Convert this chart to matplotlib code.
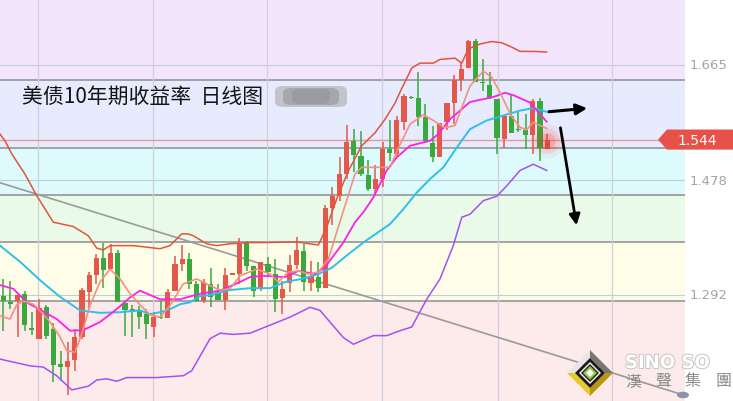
import matplotlib
matplotlib.use("Agg")
from matplotlib import pyplot as plt, patches, transforms
import matplotlib.patheffects as pe
import numpy as np

plt.rcParams['font.family'] = ['Noto Sans CJK SC', 'DejaVu Sans']

# daily candles (yield levels)
opens = [1.291, 1.281, 1.283, 1.294, 1.238, 1.221, 1.273, 1.237, 1.180, 1.175,
         1.187, 1.224, 1.297, 1.325, 1.352, 1.334, 1.360, 1.279, 1.269, 1.268,
         1.261, 1.240, 1.257, 1.255, 1.299, 1.342, 1.350, 1.310, 1.283, 1.310,
         1.296, 1.284, 1.325, 1.326, 1.376, 1.339, 1.302, 1.342, 1.326, 1.287,
         1.311, 1.341, 1.363, 1.311, 1.321, 1.304, 1.433, 1.453, 1.488, 1.541,
         1.518, 1.487, 1.464, 1.480, 1.529, 1.521, 1.573, 1.613, 1.611, 1.580,
         1.539, 1.515, 1.573, 1.604, 1.641, 1.660, 1.704, 1.638, 1.632, 1.610,
         1.545, 1.582, 1.561, 1.559, 1.551, 1.607, 1.528]
highs = [1.318, 1.314, 1.292, 1.299, 1.265, 1.285, 1.276, 1.246, 1.201, 1.215,
         1.237, 1.303, 1.330, 1.358, 1.377, 1.375, 1.365, 1.281, 1.275, 1.274,
         1.269, 1.264, 1.283, 1.302, 1.355, 1.373, 1.360, 1.315, 1.318, 1.335,
         1.310, 1.335, 1.328, 1.385, 1.380, 1.339, 1.345, 1.353, 1.350, 1.315,
         1.356, 1.386, 1.374, 1.347, 1.345, 1.438, 1.467, 1.516, 1.568, 1.561,
         1.558, 1.511, 1.502, 1.540, 1.575, 1.583, 1.618, 1.615, 1.654, 1.602,
         1.566, 1.571, 1.604, 1.648, 1.669, 1.706, 1.707, 1.675, 1.653, 1.610,
         1.582, 1.618, 1.588, 1.585, 1.610, 1.612, 1.553]
lows = [1.234, 1.269, 1.224, 1.234, 1.227, 1.221, 1.221, 1.151, 1.153, 1.130,
        1.169, 1.221, 1.269, 1.310, 1.304, 1.334, 1.280, 1.225, 1.224, 1.237,
        1.221, 1.224, 1.253, 1.255, 1.299, 1.331, 1.302, 1.280, 1.279, 1.272,
        1.284, 1.268, 1.324, 1.310, 1.331, 1.288, 1.298, 1.321, 1.264, 1.261,
        1.296, 1.334, 1.299, 1.299, 1.297, 1.304, 1.405, 1.445, 1.480, 1.491,
        1.485, 1.461, 1.453, 1.467, 1.510, 1.515, 1.559, 1.610, 1.566, 1.540,
        1.508, 1.515, 1.559, 1.569, 1.623, 1.660, 1.637, 1.623, 1.610, 1.521,
        1.531, 1.555, 1.556, 1.529, 1.521, 1.510, 1.528]
closes = [1.283, 1.278, 1.292, 1.244, 1.235, 1.271, 1.225, 1.178, 1.175, 1.185,
          1.224, 1.300, 1.324, 1.352, 1.333, 1.360, 1.280, 1.268, 1.265, 1.256,
          1.245, 1.256, 1.255, 1.297, 1.342, 1.350, 1.310, 1.283, 1.313, 1.289,
          1.284, 1.324, 1.327, 1.375, 1.339, 1.299, 1.345, 1.330, 1.285, 1.302,
          1.341, 1.365, 1.313, 1.323, 1.304, 1.433, 1.453, 1.488, 1.540, 1.519,
          1.488, 1.464, 1.480, 1.529, 1.522, 1.575, 1.615, 1.612, 1.580, 1.541,
          1.515, 1.571, 1.603, 1.640, 1.658, 1.704, 1.637, 1.635, 1.611, 1.546,
          1.582, 1.555, 1.559, 1.552, 1.607, 1.530, 1.544]

# indicator lines (candle index, level) read at sample points
boll_up_x = [-0.46, 0.24, 1.17, 3.03, 4.67, 6.99, 9.78, 11.88, 13.05, 13.98, 14.91, 18.17,
             21.90, 23.30, 24.93, 25.86, 26.55, 28.43, 29.82, 31.68, 34.48, 36.58, 41.01,
             44.03, 45.20, 46.60, 48.22, 50.09, 51.95, 53.35, 54.74, 55.44, 57.08, 58.24,
             60.10, 61.03, 63.13, 64.07, 64.99, 66.63, 68.26, 69.66, 71.05, 72.21, 74.07, 75.94]
boll_up_y = [1.553, 1.542, 1.521, 1.488, 1.453, 1.410, 1.403, 1.388, 1.368, 1.365, 1.372, 1.372,
             1.367, 1.372, 1.391, 1.391, 1.388, 1.375, 1.372, 1.375, 1.377, 1.377, 1.378,
             1.373, 1.402, 1.448, 1.493, 1.534, 1.555, 1.577, 1.603, 1.621, 1.660, 1.668,
             1.668, 1.674, 1.676, 1.668, 1.691, 1.699, 1.703, 1.701, 1.694, 1.687, 1.687, 1.686]
boll_dn_x = [-0.46, 3.73, 5.59, 7.46, 9.56, 11.88, 13.05, 14.45, 15.85, 17.25, 21.44, 25.16,
             26.33, 28.89, 30.29, 32.15, 34.48, 37.27, 40.07, 42.86, 44.26, 45.66, 47.52,
             48.92, 51.71, 53.58, 55.44, 57.08, 59.17, 61.03, 62.89, 64.07, 65.23, 67.09,
             68.96, 70.36, 72.22, 74.07, 75.94]
boll_dn_y = [1.188, 1.177, 1.175, 1.161, 1.138, 1.144, 1.154, 1.156, 1.152, 1.158, 1.158, 1.161,
             1.169, 1.221, 1.230, 1.228, 1.230, 1.243, 1.256, 1.272, 1.267, 1.248, 1.223,
             1.212, 1.226, 1.226, 1.234, 1.240, 1.285, 1.318, 1.372, 1.418, 1.423, 1.445,
             1.452, 1.469, 1.494, 1.504, 1.494]
ma_long_x = [-0.46, 2.33, 5.13, 7.92, 10.72, 13.51, 16.31, 19.10, 20.50, 21.90, 23.30, 24.70,
             26.09, 27.49, 28.89, 31.68, 34.48, 37.27, 39.37, 41.71, 44.03, 45.90, 48.00,
             50.31, 54.05, 55.90, 57.78, 59.64, 61.50, 63.37, 65.23, 67.56, 69.88, 72.21,
             74.07, 75.94]
ma_long_y = [1.372, 1.346, 1.316, 1.289, 1.267, 1.263, 1.264, 1.267, 1.261, 1.264, 1.269, 1.277,
             1.280, 1.290, 1.292, 1.300, 1.303, 1.303, 1.313, 1.318, 1.326, 1.336, 1.356,
             1.377, 1.407, 1.431, 1.458, 1.480, 1.499, 1.531, 1.561, 1.575, 1.583, 1.591,
             1.595, 1.589]
ma_mid_x = [-0.46, 1.40, 3.27, 5.13, 7.46, 9.32, 11.18, 13.51, 15.85, 17.71, 19.10, 21.90,
            24.70, 27.49, 30.29, 33.08, 34.48, 36.34, 39.37, 41.23, 43.56, 44.96, 47.52,
            49.15, 50.31, 51.71, 53.58, 54.98, 56.84, 59.64, 60.80, 62.43, 65.23, 68.48,
            70.12, 71.28, 73.61, 75.94]
ma_mid_y = [1.308, 1.302, 1.280, 1.268, 1.253, 1.234, 1.235, 1.248, 1.269, 1.288, 1.299, 1.285,
            1.285, 1.294, 1.299, 1.313, 1.321, 1.323, 1.321, 1.331, 1.326, 1.337, 1.377,
            1.410, 1.426, 1.450, 1.494, 1.515, 1.534, 1.542, 1.553, 1.577, 1.605, 1.613,
            1.620, 1.616, 1.604, 1.573]
ma_short_x = [-0.46, 0.94, 1.87, 2.80, 4.19, 5.59, 6.53, 7.92, 8.86, 10.02, 10.96, 12.12,
              13.51, 14.91, 16.31, 17.71, 19.10, 20.50, 21.90, 23.30, 25.16, 27.03, 28.89,
              30.29, 31.68, 33.08, 35.42, 37.27, 38.43, 39.83, 41.23, 42.63, 44.03, 45.42,
              46.60, 47.76, 49.15, 50.09, 51.95, 54.05, 55.16, 56.84, 58.70, 60.10, 61.73,
              63.13, 65.23, 67.09, 68.26, 69.44, 70.96, 72.21, 73.14, 74.07, 75.00, 75.94]
ma_short_y = [1.258, 1.253, 1.276, 1.282, 1.277, 1.261, 1.248, 1.224, 1.202, 1.199, 1.229, 1.275,
              1.313, 1.334, 1.318, 1.294, 1.276, 1.260, 1.256, 1.275, 1.310, 1.318, 1.307,
              1.300, 1.302, 1.323, 1.334, 1.326, 1.313, 1.329, 1.331, 1.326, 1.329, 1.350,
              1.394, 1.437, 1.488, 1.499, 1.499, 1.499, 1.529, 1.569, 1.584, 1.575, 1.563,
              1.567, 1.631, 1.655, 1.645, 1.620, 1.583, 1.564, 1.560, 1.572, 1.567, 1.562]

# hand-drawn trend line end points
trend_x = [-0.46, 94.99]
trend_y = [1.474, 1.130]

# background zones and their edges
zone_edges = [1.772, 1.640, 1.530, 1.454, 1.378, 1.282, 1.120]
zone_colors = ['#f3e6fc', '#e6ebfd', '#ddfafc', '#e9fbe8', '#fefde8', '#fdeaeb']
tick_levels = [1.665, 1.478, 1.292]
tick_labels = ['1.665', '1.478', '1.292']
vgrid_x = [4.85, 20.92, 36.86, 52.97, 69.07, 85.07]
last_price = 1.544

W, H = 733, 402
fig = plt.figure(figsize=(W / 100, H / 100), dpi=100)
fig.patch.set_facecolor('white')
ax = fig.add_axes([0, 0, 685 / W, 1])
ax.set_xlim(-0.46, 95.27)
ax.set_ylim(zone_edges[-1], zone_edges[0])
ax.axis('off')

for top, bot, col in zip(zone_edges[:-1], zone_edges[1:], zone_colors):
    ax.axhspan(bot, top, color=col, lw=0, zorder=0)
for lv in zone_edges[1:-1]:
    ax.axhline(lv, color='#9c9c9c', lw=1.3, zorder=1)
for lv in tick_levels:
    ax.axhline(lv, color='#c6cbd8', lw=0.8, zorder=1)
for vx in vgrid_x:
    ax.axvline(vx, color='#cfd0dc', lw=0.9, zorder=1)
ax.axhline(last_price, color='#e89a9a', lw=1.0, zorder=1)

ax.plot(trend_x, trend_y, color='#9a9a9a', lw=1.2, zorder=2)

# candles
o = np.array(opens)
c = np.array(closes)
hi = np.array(highs)
lo = np.array(lows)
idx = np.arange(len(o))
up = c >= o
cols = np.where(up, '#e4574b', '#38aa3c')
ax.vlines(idx, lo, hi, colors=cols, lw=1.1, zorder=3)
body = np.maximum(np.abs(c - o), 0.0017)
ax.bar(idx, body, bottom=np.minimum(o, c), width=0.72, color=cols, lw=0, zorder=4)

# glow on the latest candle
for s, a in [(600, 0.06), (320, 0.10), (140, 0.18)]:
    ax.scatter([idx[-1]], [c[-1] - 0.003], s=s, color='#ff2020', alpha=a, lw=0, zorder=5)

# indicator lines
ax.plot(boll_up_x, boll_up_y, color='#e2553a', lw=1.1, zorder=6)
ax.plot(boll_dn_x, boll_dn_y, color='#a352f2', lw=1.1, zorder=6)
ax.plot(ma_long_x, ma_long_y, color='#2ec0ea', lw=1.4, zorder=6)
ax.plot(ma_mid_x, ma_mid_y, color='#ff1fe8', lw=1.3, zorder=6)
ax.plot(ma_short_x, ma_short_y, color='#f5907e', lw=1.2, zorder=6)

# right price labels
blend = transforms.blended_transform_factory(fig.transFigure, ax.transData)
for lv, lab in zip(tick_levels, tick_labels):
    fig.text(690 / W, lv, lab, transform=blend, fontsize=9.5, color='#a3a3ab',
             va='center', ha='left', family='DejaVu Sans')

# current price tag
dh = 0.0163
tag = patches.Polygon([(658 / W, last_price), (667 / W, last_price + dh), (1.0, last_price + dh),
                       (1.0, last_price - dh), (667 / W, last_price - dh)],
                      closed=True, transform=blend, color='#e8514a', lw=0)
fig.add_artist(tag)
fig.text(697 / W, last_price, '1.544', transform=blend, fontsize=10, color='white',
         va='center', ha='center', family='DejaVu Sans')


def fp(x, y):
    return (x / W, 1 - y / H)


# title and blurred tag
fig.text(22 / W, 1 - 97 / H, '美债10年期收益率  日线图', fontsize=15, color='#141414',
         va='center', ha='left')
for (x0, y0, w, h, col) in [(275, 87, 72, 21, '#c3c3cb'), (283, 89, 56, 17, '#a6a6ae'),
                            (292, 90, 38, 15, '#9a9aa2')]:
    fig.add_artist(patches.FancyBboxPatch(fp(x0, y0 + h), w / W, h / H,
                                          boxstyle='round,pad=0,rounding_size=0.012',
                                          transform=fig.transFigure, color=col, lw=0))

# arrows
ax.annotate('', xy=(590, H - 109), xytext=(546, H - 113), xycoords='figure pixels',
            textcoords='figure pixels',
            arrowprops=dict(arrowstyle='-|>', color='black', lw=2.2, mutation_scale=16))
ax.annotate('', xy=(577, H - 229), xytext=(560, H - 126), xycoords='figure pixels',
            textcoords='figure pixels',
            arrowprops=dict(arrowstyle='-|>', color='black', lw=2.0, mutation_scale=16))

# end dot of the trend line
fig.add_artist(patches.Circle(fp(683, 396), 6 / W, transform=fig.transFigure,
                              color='#8c92a8', lw=0))

# logo
cx, cy = 590, 374


def diamond(r):
    return [(cx, cy - r), (cx + r, cy), (cx, cy + r), (cx - r, cy)]


ro, ri = 23, 15
out, inn = diamond(ro), diamond(ri)
faces = [((3, 0), '#e6e6e6'), ((0, 1), '#7a7670'), ((1, 2), '#b89612'), ((2, 3), '#e8c92c')]
for (a, b), col in faces:
    pts = [fp(*out[a]), fp(*out[b]), fp(*inn[b]), fp(*inn[a])]
    fig.add_artist(patches.Polygon(pts, closed=True, transform=fig.transFigure, color=col, lw=0))
for r, col in [(15, '#1c1a18'), (11, '#f4f4f0'), (9, '#2a2622'), (7, '#8cc63f'), (4, '#ffffff')]:
    fig.add_artist(patches.Polygon([fp(*p) for p in diamond(r)], closed=True,
                                   transform=fig.transFigure, color=col, lw=0))

fig.text(625 / W, 1 - 364 / H, 'SINO SO', fontsize=13, fontweight='bold', color='white',
         va='center', ha='left', family='DejaVu Sans',
         path_effects=[pe.withStroke(linewidth=1.5, foreground='#c8c8c8')])
for k, ch in enumerate(['漢', '聲', '集', '團']):
    fig.text((625 + 30 * k) / W, 1 - 382 / H, ch, fontsize=11.5, color='#8a8a8a',
             va='center', ha='left', family=['Noto Sans CJK TC', 'DejaVu Sans'])

fig.savefig('out.png', dpi=100)
